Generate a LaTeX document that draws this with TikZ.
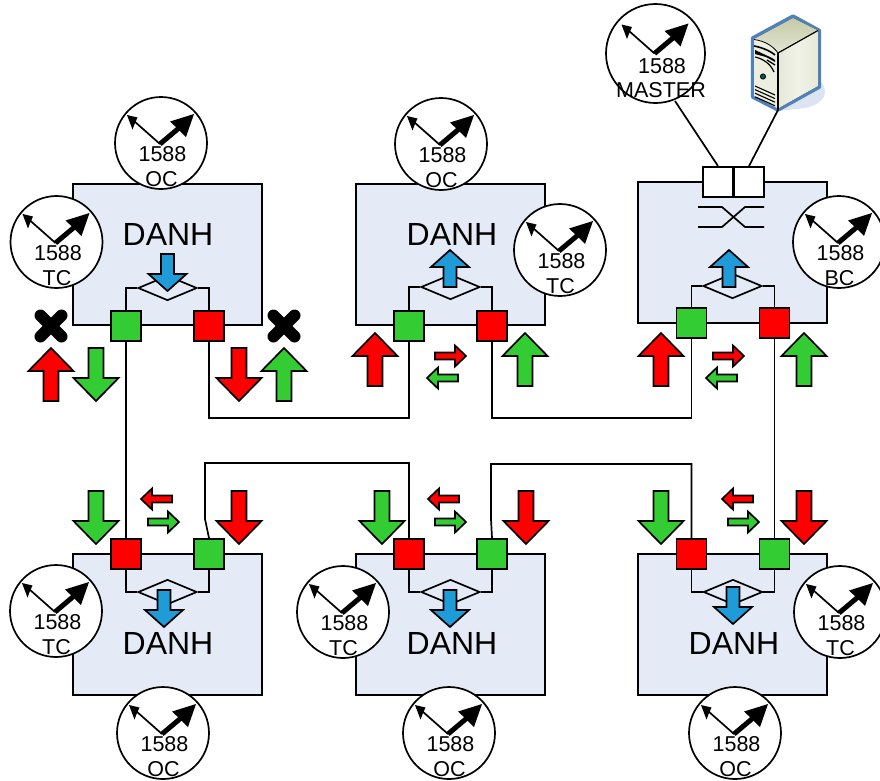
\documentclass[tikz,border=0pt]{standalone}
\usepackage{fontspec}
\setmainfont{Liberation Sans}
\usetikzlibrary{shapes.geometric}
\definecolor{pgreen}{HTML}{33CC33}
\definecolor{pred}{HTML}{FF0000}
\definecolor{pblue}{HTML}{1F9BD7}
\definecolor{boxfill}{HTML}{E5EBF6}
\definecolor{srvblue}{HTML}{4F81BD}
\definecolor{srvshadow}{HTML}{DCE4F2}
\definecolor{srvtopa}{HTML}{C4CAA8}
\definecolor{srvtopb}{HTML}{E4E6D2}
\definecolor{srvside}{HTML}{E6E9D9}
\definecolor{srvsideb}{HTML}{F0F2E6}
\definecolor{srvfront}{HTML}{ECEEDF}
\tikzset{
  ln/.style={line width=1.7pt,draw=black},
  devbox/.style={ln,fill=boxfill},
  port/.style={ln,minimum size=30pt,inner sep=0pt,line width=1.9pt},
  clockface/.style={circle,ln,fill=white,minimum size=92pt,inner sep=0pt},
  clocktext/.style={anchor=base,inner sep=0pt,font=\fontsize{21.5}{21.5}\selectfont,text=black},
  danhtext/.style={inner sep=0pt,font=\fontsize{32}{32}\selectfont,text=black},
  dia/.style={diamond,aspect=2.36,minimum width=59pt,minimum height=25pt,inner sep=0pt,ln,fill=boxfill},
  barrow/.style={line width=1.7pt,draw=black,line join=miter},
  xmark/.style={line width=12pt,line cap=round,black},
}
% #1 cx, #2 tip y, #3 sign (+1 arrow points up, -1 points down), #4 half head, #5 half shaft, #6 head len, #7 total len, #8 colour
\newcommand{\vblock}[8]{\draw[barrow,fill=#8] (#1,#2) -- ({#1+#4},{#2+#3*#6}) -- ({#1+#5},{#2+#3*#6}) -- ({#1+#5},{#2+#3*#7}) -- ({#1-#5},{#2+#3*#7}) -- ({#1-#5},{#2+#3*#6}) -- ({#1-#4},{#2+#3*#6}) -- cycle;}
% #1 tip x, #2 cy, #3 sign (+1 points left, -1 points right), #4 colour
\newcommand{\hblock}[4]{\draw[barrow,fill=#4] (#1,#2) -- ({#1+#3*11},{#2-10.5}) -- ({#1+#3*11},{#2-3.5}) -- ({#1+#3*31},{#2-3.5}) -- ({#1+#3*31},{#2+3.5}) -- ({#1+#3*11},{#2+3.5}) -- ({#1+#3*11},{#2+10.5}) -- cycle;}
\newcommand{\bigup}[3]{\vblock{#1}{#2}{1}{22.5}{7.5}{23}{53}{#3}}
\newcommand{\bigdown}[3]{\vblock{#1}{#2}{-1}{22.5}{7.5}{23}{53}{#3}}
\newcommand{\blueup}[2]{\vblock{#1}{#2}{1}{19}{6.5}{17}{37}{pblue}}
\newcommand{\bluedown}[2]{\vblock{#1}{#2}{-1}{19}{6.5}{17}{37}{pblue}}
% hands of a clock centred at #1,#2
\newcommand{\hands}[2]{%
  \begin{scope}[shift={(#1,#2)}]
    \draw[line width=1.7pt,black] (-1,1) -- (-27,-22);
    \fill[black] (-34,-28) -- (-23.5,-25.5) -- (-26,-20) -- (-28.5,-13.5) -- cycle;
    \draw[line width=5pt,black] (-1,1) -- (18,-15);
    \fill[black] (33,-29) -- (9,-21.5) -- (17,-14) -- (25,-6) -- cycle;
  \end{scope}}
% #1 name, #2 cx, #3 cy, #4 label
\newcommand{\clock}[4]{%
  \node[clockface] (#1) at (#2,#3) {};
  \hands{#2}{#3}
  \node[clocktext] (#1n) at ({#2+1.5},{#3+18.5}) {1588};
  \node[clocktext] (#1l) at ({#2+0.5},{#3+43.5}) {#4};}
\begin{document}
\begin{tikzpicture}[x=1pt,y=-1pt]
\useasboundingbox (0,0) rectangle (880,780);
\clip (0,0) rectangle (880,780);

% device boxes
\draw[devbox] (73,184) rectangle (262,325);
\draw[devbox] (356,184) rectangle (545,325);
\draw[devbox] (638,182) rectangle (827,323);
\draw[devbox] (73,554) rectangle (262,695);
\draw[devbox] (356,554) rectangle (545,695);
\draw[devbox] (638,554) rectangle (827,695);

% diamonds
\node[dia] (d1) at (167.5,288) {};
\node[dia] (d2) at (450.5,287) {};
\node[dia] (d3) at (732.5,286) {};
\node[dia] (d4) at (167.5,592) {};
\node[dia] (d5) at (450.5,592) {};
\node[dia] (d6) at (733,592) {};

% ports
\node[port,fill=pgreen] (g1) at (126,326) {};
\node[port,fill=pred]   (r1) at (209,326) {};
\node[port,fill=pgreen] (g2) at (409,326) {};
\node[port,fill=pred]   (r2) at (492,326) {};
\node[port,fill=pgreen] (g3) at (691.5,323) {};
\node[port,fill=pred]   (r3) at (774.5,323) {};
\node[port,fill=pred]   (r4) at (126,554) {};
\node[port,fill=pgreen] (g4) at (209,554) {};
\node[port,fill=pred]   (r5) at (409,554) {};
\node[port,fill=pgreen] (g5) at (492,554) {};
\node[port,fill=pred]   (r6) at (691.5,554) {};
\node[port,fill=pgreen] (g6) at (774.5,554) {};
\node[port,fill=white] (w1) at (718,182) {};
\node[port,fill=white] (w2) at (749,182) {};

% port to diamond
\draw[ln] (g1.north) |- (d1.west);
\draw[ln] (r1.north) |- (d1.east);
\draw[ln] (g2.north) |- (d2.west);
\draw[ln] (r2.north) |- (d2.east);
\draw[ln] (g3.north) |- (d3.west);
\draw[ln] (r3.north) |- (d3.east);
\draw[ln] (r4.south) |- (d4.west);
\draw[ln] (g4.south) |- (d4.east);
\draw[ln] (r5.south) |- (d5.west);
\draw[ln] (g5.south) |- (d5.east);
\draw[ln] (r6.south) |- (d6.west);
\draw[ln] (g6.south) |- (d6.east);

% links
\draw[ln] (g1.south) -- (r4.north);
\draw[ln] (r1.south) -- ++(0,76) -| (g2.south);
\draw[ln] (r2.south) -- ++(0,76) -| (g3.south);
\draw[ln] (r3.south) -- (g6.north);
\draw[ln] (g4.north) -- ++(-4,-19) -- ++(0,-56) -| (r5.north);
\draw[ln] (g5.north) -- ++(-1,-19) -- ++(0,-55) -| (r6.north);

% crossover symbol
\draw[ln] (698,207) -- (722,207) -- (745,227) -- (764,227);
\draw[ln] (698,227) -- (722,227) -- (745,207) -- (764,207);

% server
\coordinate (srv) at (778,110);
\fill[srvshadow] (800,80) -- (820,80) .. controls (830,92) and (825,104) .. (805,108) -- (778,111) -- cycle;
\draw[line width=3.4pt,srvblue,line join=round,fill=srvfront] (793,16) -- (819.5,30.5) -- (819.5,87) -- (778,110) -- (752.5,97) -- (752.5,38) -- cycle;
\fill[bottom color=srvtopb,top color=srvtopa] (754,39) -- (793,18) -- (818,30.5) -- (778,53) -- cycle;
\fill[left color=srvside,right color=srvside,middle color=srvsideb] (778,53) -- (818,30.5) -- (818,86) -- (778,108.5) -- cycle;
\fill[srvfront] (754,39) .. controls (765,41) and (773,46) .. (778,53) -- (778,108.5) -- (754,96) -- cycle;
\draw[line width=1.2pt,black] (778,53) -- (818,30.5);
\draw[line width=1.4pt,black] (778,53) -- (778,110);
\draw[line width=0.8pt,black] (754,39.5) .. controls (765,41) and (773,46) .. (778,53);
\draw[line width=1.6pt,black] (754,46) .. controls (760,47) and (769,50) .. (775,55);
\fill[black] (755,50) -- (772,58) -- (775,60) -- (775,62) -- (766,57) -- (755,54) -- cycle;
\draw[line width=1.3pt,black] (767,60) -- (775,65);
\draw[line width=1.2pt,black] (755,57) .. controls (760,58) and (770,62) .. (774,72);
\fill[teal!70!black,draw=black,line width=0.8pt] (763,76.5) circle (2.6);
\foreach \dy in {0,3.6,7.2,10.8}
  \draw[line width=1.1pt,black] (755,{86+\dy}) -- (775,{95+\dy});

% uplinks
\draw[ln] (675,101) -- (w1.north);
\draw[ln] (srv) -- (w2.north);

% DANH
\node[danhtext] (t1) at (168,234.5) {DANH};
\node[danhtext] (t2) at (452,234.5) {DANH};
\node[danhtext] (t4) at (168,643) {DANH};
\node[danhtext] (t5) at (452,643) {DANH};
\node[danhtext] (t6) at (734,643) {DANH};

% blue arrows
\bluedown{167.5}{291}
\blueup{450}{250}
\blueup{729}{250}
\bluedown{164}{627}
\bluedown{450}{627}
\bluedown{733}{624}

% large arrows
\bigup{51}{348}{pred}
\bigdown{96}{401}{pgreen}
\bigdown{239}{401}{pred}
\bigup{284}{348}{pgreen}
\bigup{375}{333}{pred}
\bigup{525}{333}{pgreen}
\bigup{661}{333}{pred}
\bigup{804}{333}{pgreen}
\bigdown{96}{544}{pgreen}
\bigdown{239}{544}{pred}
\bigdown{382}{544}{pgreen}
\bigdown{526}{544}{pred}
\bigdown{661}{544}{pgreen}
\bigdown{804}{544}{pred}

% small arrows
\hblock{466}{356}{-1}{pred}
\hblock{427}{378}{1}{pgreen}
\hblock{744}{356}{-1}{pred}
\hblock{706}{378}{1}{pgreen}
\hblock{141}{499}{1}{pred}
\hblock{179}{522}{-1}{pgreen}
\hblock{428}{499}{1}{pred}
\hblock{466}{522}{-1}{pgreen}
\hblock{722}{499}{1}{pred}
\hblock{759}{522}{-1}{pgreen}

% crosses
\draw[xmark] (40.5,315.5) -- (61.5,336.5);
\draw[xmark] (40.5,336.5) -- (61.5,315.5);
\draw[xmark] (273.5,315.5) -- (294.5,336.5);
\draw[xmark] (273.5,336.5) -- (294.5,315.5);

% clocks
\clock{c1}{161}{143}{OC}
\clock{c2}{56.5}{242}{TC}
\clock{c3}{441}{144}{OC}
\clock{c4}{560}{250}{TC}
\clock{c5}{839}{242}{BC}
\clock{c6}{56}{611}{TC}
\clock{c7}{163}{733}{OC}
\clock{c8}{343}{612}{TC}
\clock{c9}{449}{733}{OC}
\clock{c10}{840}{612}{TC}
\clock{c11}{735}{733}{OC}

% master clock
\node[clockface,minimum size=99pt] (m) at (655.5,53.5) {};
\hands{655.5}{52.5}
\node[clocktext] (mn) at (662,73) {1588};
\node[clocktext] (ml) at (661,97) {MASTER};
\end{tikzpicture}
\end{document}
